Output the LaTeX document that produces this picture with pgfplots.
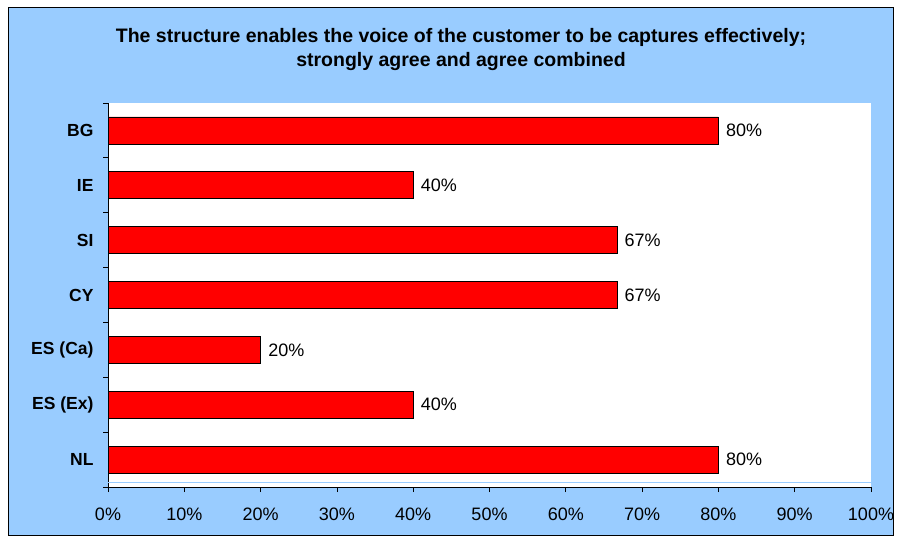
\documentclass[border=0pt]{standalone}
\usepackage{pgfplots}
\pgfplotsset{compat=1.18}
\usepackage{fontspec}
\setmainfont{Liberation Sans}
\definecolor{bgblue}{HTML}{99CCFF}
\definecolor{barred}{HTML}{FF0000}

\begin{document}
\begin{tikzpicture}
  \path[use as bounding box] (0pt,0pt) rectangle (899pt,541pt);
  \draw[fill=bgblue,draw=black,line width=1pt] (8pt,6pt) rectangle (893pt,533pt);
  \node[font=\bfseries\fontsize{19.5}{24}\selectfont,align=center] at (461pt,491pt)
    {The structure enables the voice of the customer to be captures effectively;\\strongly agree and agree combined};
  \begin{axis}[
      at={(108pt,54pt)}, anchor=south west,
      scale only axis,
      width=763pt, height=384pt,
      xbar, bar width=27pt,
      xmin=0, xmax=100,
      ymin=-0.5, ymax=6.5,
      y dir=reverse,
      axis x line*=bottom, axis y line*=left,
      axis line style={black,line width=0.8pt},
      axis background/.style={fill=white},
      xtick={0,10,...,100},
      xticklabel={\pgfmathprintnumber{\tick}\%},
      ytick={0,...,6},
      yticklabels={BG,IE,SI,CY,ES (Ca),ES (Ex),NL},
      yticklabel style={font=\bfseries\fontsize{17.5}{19}\selectfont},
      xticklabel style={font=\fontsize{18}{20}\selectfont},
      minor ytick={-0.5,0.5,...,6.5},
      major y tick style={draw=none},
      minor tick length=5pt, major tick length=5pt,
      tick style={black,line width=0.8pt},
      tick align=outside,
      xticklabel shift=12pt,
      yticklabel shift=6pt,
      /pgf/number format/assume math mode=true,
      nodes near coords={\pgfmathprintnumber[fixed,precision=0]{\pgfplotspointmeta}\%},
      nodes near coords style={font=\fontsize{18}{20}\selectfont,black,xshift=4pt},
      point meta=x,
    ]
    \addplot[fill=barred,draw=black,line width=0.8pt] coordinates {
      (80,0) (40,1) (66.7,2) (66.7,3) (20,4) (40,5) (80,6)
    };
    \draw[bgblue,line width=1pt] (rel axis cs:0,0.013) -- (rel axis cs:1,0.013);
  \end{axis}
\end{tikzpicture}
\end{document}
